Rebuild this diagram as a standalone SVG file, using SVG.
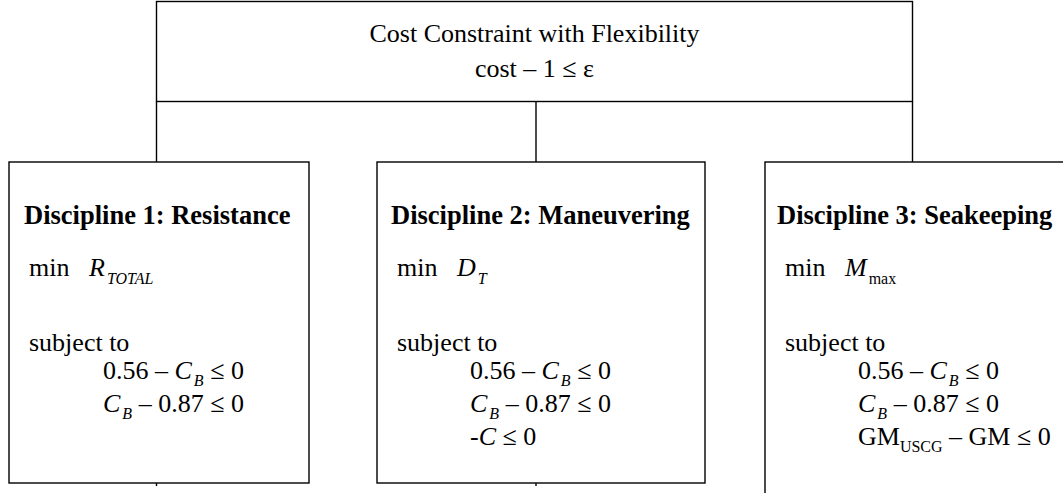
<svg xmlns="http://www.w3.org/2000/svg" width="1063" height="493" viewBox="0 0 1063 493">
  <style>
    .box { fill: #ffffff; stroke: #000000; stroke-width: 1.4; }
    .conn { stroke: #000000; stroke-width: 1.4; fill: none; }
    text { font-family: "Liberation Serif", "Times New Roman", serif; font-size: 26px; fill: #000000; }
    .title { text-anchor: middle; }
    .head { font-weight: bold; font-size: 26.5px; }
    .it { font-style: italic; }
    .sub { font-size: 16px; }
  </style>
  <rect width="1063" height="493" fill="#ffffff"/>

  <!-- connectors: drawn first so the discipline boxes sit over them -->
  <g id="connectors">
    <line class="conn" x1="156.5" y1="101.5" x2="156.5" y2="486"/>
    <line class="conn" x1="536" y1="101.5" x2="536" y2="486"/>
    <line class="conn" x1="912.5" y1="101.5" x2="912.5" y2="162"/>
  </g>

  <!-- top-level cost constraint -->
  <g id="cost-constraint">
    <rect class="box" x="156.5" y="1.5" width="756" height="100"/>
    <text class="title" x="534.5" y="42">Cost Constraint with Flexibility</text>
    <text class="title" x="534.5" y="77">cost – 1 ≤ ε</text>
  </g>

  <!-- discipline 1 -->
  <g id="discipline-1">
    <rect class="box" x="9" y="162" width="300" height="321"/>
    <text class="head" x="24" y="224">Discipline 1: Resistance</text>
    <text x="29" y="276">min</text>
    <text class="it" x="89" y="276">R<tspan class="sub" dx="2" dy="8">TOTAL</tspan></text>
    <text x="29" y="351">subject to</text>
    <text x="103" y="379">0.56 – <tspan class="it">C</tspan><tspan class="sub it" dx="2" dy="7">B</tspan><tspan dy="-7"> ≤ 0</tspan></text>
    <text x="103" y="412"><tspan class="it">C</tspan><tspan class="sub it" dx="2" dy="7">B</tspan><tspan dy="-7"> – 0.87 ≤ 0</tspan></text>
  </g>

  <!-- discipline 2 -->
  <g id="discipline-2">
    <rect class="box" x="377" y="162" width="328" height="321"/>
    <text class="head" x="391" y="224">Discipline 2: Maneuvering</text>
    <text x="397" y="276">min</text>
    <text class="it" x="457" y="276">D<tspan class="sub" dx="2" dy="8">T</tspan></text>
    <text x="397" y="351">subject to</text>
    <text x="470" y="379">0.56 – <tspan class="it">C</tspan><tspan class="sub it" dx="2" dy="7">B</tspan><tspan dy="-7"> ≤ 0</tspan></text>
    <text x="470" y="412"><tspan class="it">C</tspan><tspan class="sub it" dx="2" dy="7">B</tspan><tspan dy="-7"> – 0.87 ≤ 0</tspan></text>
    <text x="470" y="445">-<tspan class="it">C</tspan> ≤ 0</text>
  </g>

  <!-- discipline 3 (runs off the right and bottom edges) -->
  <g id="discipline-3">
    <rect class="box" x="765" y="162" width="320" height="340"/>
    <text class="head" x="777" y="224">Discipline 3: Seakeeping</text>
    <text x="785" y="276">min</text>
    <text x="845" y="276"><tspan class="it">M</tspan><tspan class="sub" dx="2" dy="8">max</tspan></text>
    <text x="785" y="351">subject to</text>
    <text x="858" y="379">0.56 – <tspan class="it">C</tspan><tspan class="sub it" dx="2" dy="7">B</tspan><tspan dy="-7"> ≤ 0</tspan></text>
    <text x="858" y="412"><tspan class="it">C</tspan><tspan class="sub it" dx="2" dy="7">B</tspan><tspan dy="-7"> – 0.87 ≤ 0</tspan></text>
    <text x="858" y="445">GM<tspan class="sub" dy="7">USCG</tspan><tspan dy="-7"> – GM ≤ 0</tspan></text>
  </g>
</svg>
